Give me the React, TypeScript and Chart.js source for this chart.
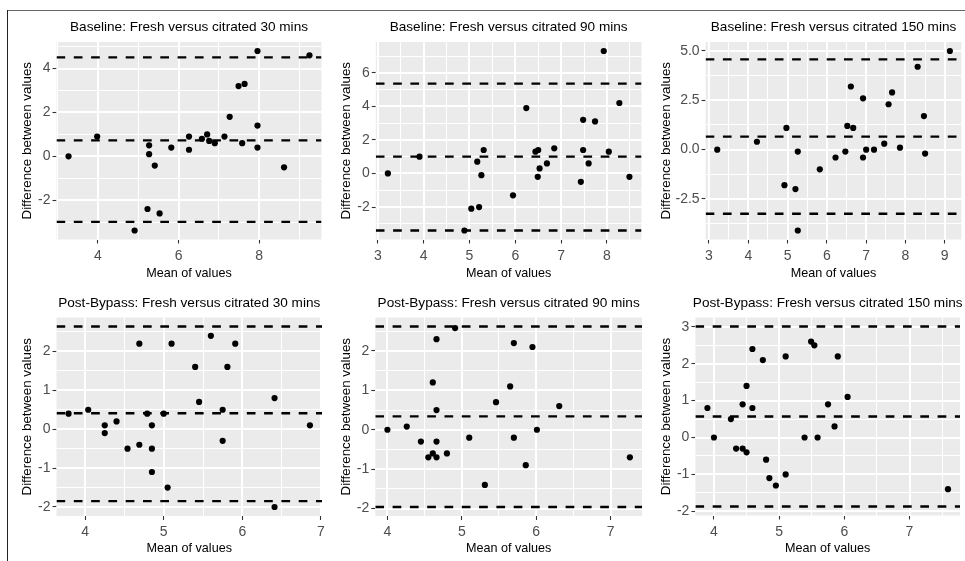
import React, { useEffect, useRef } from "react";
import { Chart, registerables } from "chart.js";

Chart.register(...registerables);

const FONT = '"Liberation Sans", Arial, Helvetica, sans-serif';
const W = 965;
const H = 561;

// ---------- titles ----------
const panelTitles = [
  "Baseline: Fresh versus citrated 30 mins",
  "Baseline: Fresh versus citrated 90 mins",
  "Baseline: Fresh versus citrated 150 mins",
  "Post-Bypass: Fresh versus citrated 30 mins",
  "Post-Bypass: Fresh versus citrated 90 mins",
  "Post-Bypass: Fresh versus citrated 150 mins",
];
const xAxisTitle = "Mean of values";
const yAxisTitle = "Difference between values";

// ---------- data: mean (x) and difference (y) ----------
const base30X = [3.27, 3.98, 4.91, 5.23, 5.27, 5.27, 5.41, 5.53, 5.82, 6.26, 6.26, 6.58, 6.71, 6.76, 6.9, 7.14, 7.27, 7.49, 7.64, 7.58, 7.96, 7.96, 7.96, 8.62, 9.25];
const base30Y = [0, 0.9, -3.38, -2.4, 0.5, 0.1, -0.42, -2.6, 0.4, 0.9, 0.3, 0.8, 1.0, 0.7, 0.6, 0.9, 1.8, 3.2, 3.3, 0.6, 4.8, 1.4, 0.4, -0.5, 4.6];

const base90X = [3.22, 3.91, 4.89, 5.04, 5.17, 5.21, 5.26, 5.31, 5.95, 6.24, 6.44, 6.5, 6.49, 6.53, 6.69, 6.85, 7.43, 7.48, 7.48, 7.6, 7.74, 7.93, 8.04, 8.27, 8.49];
const base90Y = [0, 1.0, -3.4, -2.1, 0.7, -2.0, -0.1, 1.4, -1.3, 3.9, 1.3, 1.4, -0.2, 0.3, 0.6, 1.5, -0.5, 3.2, 1.4, 0.6, 3.1, 7.3, 1.3, 4.2, -0.2];

const base150X = [3.21, 4.22, 4.92, 4.97, 5.2, 5.26, 5.26, 5.82, 6.22, 6.47, 6.52, 6.61, 6.67, 6.92, 6.92, 7.0, 7.2, 7.46, 7.57, 7.66, 7.86, 8.31, 8.47, 8.5, 9.13];
const base150Y = [0, 0.4, -1.8, 1.1, -2.0, -0.1, -4.1, -1.0, -0.4, -0.1, 1.2, 3.2, 1.1, 2.6, -0.4, 0, 0, 0.3, 2.3, 2.9, 0.1, 4.2, 1.7, -0.2, 5.0];

const post30X = [3.79, 4.04, 4.25, 4.25, 4.4, 4.54, 4.69, 4.69, 4.79, 4.85, 4.85, 4.85, 5.0, 5.05, 5.1, 5.4, 5.45, 5.6, 5.75, 5.75, 5.81, 5.91, 6.41, 6.41, 6.86];
const post30Y = [0.4, 0.5, 0.1, -0.1, 0.2, -0.5, 2.2, -0.4, 0.4, 0.1, -0.5, -1.1, 0.4, -1.5, 2.2, 1.6, 0.7, 2.4, 0.5, -0.3, 1.6, 2.2, 0.8, -2.0, 0.1];

const post90X = [4.0, 4.26, 4.45, 4.55, 4.61, 4.61, 4.66, 4.66, 4.66, 4.66, 4.8, 4.91, 5.1, 5.31, 5.46, 5.65, 5.7, 5.7, 5.86, 5.95, 6.01, 6.31, 7.26];
const post90Y = [0, 0.08, -0.3, -0.7, -0.6, 1.2, 2.3, 0.5, -0.3, -0.7, -0.6, 2.58, -0.2, -1.4, 0.7, 1.1, 2.2, -0.2, -0.9, 2.1, 0, 0.6, -0.7];

const post150X = [3.9, 4.0, 4.26, 4.34, 4.44, 4.44, 4.5, 4.5, 4.59, 4.59, 4.75, 4.8, 4.85, 4.95, 5.1, 5.1, 5.39, 5.49, 5.54, 5.59, 5.75, 5.85, 5.9, 6.05, 7.59];
const post150Y = [0.8, 0, 0.5, -0.3, 0.9, -0.3, 1.4, -0.4, 2.4, 0.8, 2.1, -0.6, -1.1, -1.3, 2.2, -1.0, 0, 2.6, 2.5, 0, 0.9, 0.3, 2.2, 1.1, -1.4];

// ---------- limits of agreement (upper, mean, lower) ----------
const base30Limits = [4.51, 0.73, -2.99];
const base90Limits = [5.36, 1.0, -3.4];
const base150Limits = [4.57, 0.66, -3.25];
const post30Limits = [2.64, 0.41, -1.85];
const post90Limits = [2.62, 0.34, -1.96];
const post150Limits = [3.01, 0.57, -1.87];

// ---------- tick values and labels ----------
const base30XTicks = [4, 6, 8];
const base30YTicks = [-2, 0, 2, 4];
const base90XTicks = [3, 4, 5, 6, 7, 8];
const base90YTicks = [-2, 0, 2, 4, 6];
const base150XTicks = [3, 4, 5, 6, 7, 8, 9];
const base150YTicks = [-2.5, 0, 2.5, 5];
const base150YLabels = ["-2.5", "0.0", "2.5", "5.0"];
const post30XTicks = [4, 5, 6, 7];
const post30YTicks = [-2, -1, 0, 1, 2];
const post90XTicks = [4, 5, 6, 7];
const post90YTicks = [-2, -1, 0, 1, 2];
const post150XTicks = [4, 5, 6, 7];
const post150YTicks = [-2, -1, 0, 1, 2, 3];

type PanelData = {
  title: string;
  xs: number[];
  ys: number[];
  limits: number[];
  xTicks: number[];
  yTicks: number[];
  xLabels: string[];
  yLabels: string[];
};

const str = (a: number[]) => a.map((v) => String(v));

const panels: PanelData[] = [
  { title: panelTitles[0], xs: base30X, ys: base30Y, limits: base30Limits, xTicks: base30XTicks, yTicks: base30YTicks, xLabels: str(base30XTicks), yLabels: str(base30YTicks) },
  { title: panelTitles[1], xs: base90X, ys: base90Y, limits: base90Limits, xTicks: base90XTicks, yTicks: base90YTicks, xLabels: str(base90XTicks), yLabels: str(base90YTicks) },
  { title: panelTitles[2], xs: base150X, ys: base150Y, limits: base150Limits, xTicks: base150XTicks, yTicks: base150YTicks, xLabels: str(base150XTicks), yLabels: base150YLabels },
  { title: panelTitles[3], xs: post30X, ys: post30Y, limits: post30Limits, xTicks: post30XTicks, yTicks: post30YTicks, xLabels: str(post30XTicks), yLabels: str(post30YTicks) },
  { title: panelTitles[4], xs: post90X, ys: post90Y, limits: post90Limits, xTicks: post90XTicks, yTicks: post90YTicks, xLabels: str(post90XTicks), yLabels: str(post90YTicks) },
  { title: panelTitles[5], xs: post150X, ys: post150Y, limits: post150Limits, xTicks: post150XTicks, yTicks: post150YTicks, xLabels: str(post150XTicks), yLabels: str(post150YTicks) },
];

// ---------- layout (page pixel boxes of each plotting panel) ----------
const boxes = [
  { L: 56.5, R: 321.5, T: 42, B: 239.5, yt: 27, tt: 27.5, xt: 273.5 },
  { L: 375.8, R: 641.5, T: 42, B: 239.5, yt: 346.5, tt: 27.5, xt: 273.5 },
  { L: 705.6, R: 961.5, T: 42, B: 239.5, yt: 666.5, tt: 27.5, xt: 273.5 },
  { L: 56.5, R: 322, T: 317.5, B: 516, yt: 27, tt: 303, xt: 549 },
  { L: 375.3, R: 642, T: 317.5, B: 516, yt: 346.5, tt: 303, xt: 549 },
  { L: 695.4, R: 960, T: 317.5, B: 515.5, yt: 666.5, tt: 303, xt: 549 },
];
const Y_AXIS_W = 42;
const X_AXIS_H = 26;

function expandRange(vals: number[]): [number, number] {
  const mn = Math.min(...vals);
  const mx = Math.max(...vals);
  const d = (mx - mn) * 0.05;
  return [mn - d, mx + d];
}

function allTicks(majors: number[], min: number, max: number) {
  const step = majors[1] - majors[0];
  const ext = [majors[0] - step, ...majors, majors[majors.length - 1] + step];
  const minors: number[] = [];
  for (let i = 0; i < ext.length - 1; i++) minors.push((ext[i] + ext[i + 1]) / 2);
  const all = [...majors, ...minors].filter((v) => v >= min - 1e-9 && v <= max + 1e-9);
  all.sort((a, b) => a - b);
  return all;
}

const near = (a: number, b: number) => Math.abs(a - b) < 1e-6;

// snap a line centre so that a line of the given width covers whole pixels
const snap = (v: number, w: number) => (w % 2 === 1 ? Math.floor(v) + 0.5 : Math.round(v));

function makeConfig(p: PanelData, b: (typeof boxes)[number]): any {
  const [xmin, xmax] = expandRange(p.xs);
  const [ymin, ymax] = expandRange([...p.ys, ...p.limits]);
  const xAll = allTicks(p.xTicks, xmin, xmax);
  const yAll = allTicks(p.yTicks, ymin, ymax);
  const xMajor = (v: number) => p.xTicks.some((m) => near(m, v));
  const yMajor = (v: number) => p.yTicks.some((m) => near(m, v));
  const xLabel = (v: number) => {
    const i = p.xTicks.findIndex((m) => near(m, v));
    return i >= 0 ? p.xLabels[i] : "";
  };
  const yLabel = (v: number) => {
    const i = p.yTicks.findIndex((m) => near(m, v));
    return i >= 0 ? p.yLabels[i] : "";
  };

  const points = p.xs.map((x, i) => ({ x, y: p.ys[i] }));
  const lineSets = p.limits.map((v) => ({
    type: "line",
    data: [
      { x: xmin, y: v },
      { x: xmax, y: v },
    ],
    borderColor: "#000000",
    borderWidth: 2.3,
    borderDash: [8.7, 8.6],
    pointRadius: 0,
    fill: false,
    tension: 0,
  }));

  const deco = {
    id: "deco",
    beforeDatasetsDraw(chart: any) {
      const a = chart.chartArea;
      const ctx = chart.ctx;
      const xs = chart.scales.x;
      const ys = chart.scales.y;
      ctx.save();
      ctx.fillStyle = "#EBEBEB";
      ctx.fillRect(a.left, a.top, a.right - a.left, a.bottom - a.top);
      ctx.strokeStyle = "#FFFFFF";
      ctx.setLineDash([]);
      for (const pass of [false, true]) {
        const w = pass ? 2 : 1;
        ctx.lineWidth = w;
        for (const t of xs.ticks) {
          if (xMajor(t.value) !== pass) continue;
          const px = snap(xs.getPixelForValue(t.value), w);
          ctx.beginPath();
          ctx.moveTo(px, a.top);
          ctx.lineTo(px, a.bottom);
          ctx.stroke();
        }
        for (const t of ys.ticks) {
          if (yMajor(t.value) !== pass) continue;
          const py = snap(ys.getPixelForValue(t.value), w);
          ctx.beginPath();
          ctx.moveTo(a.left, py);
          ctx.lineTo(a.right, py);
          ctx.stroke();
        }
      }
      ctx.restore();
    },
    afterDraw(chart: any) {
      const a = chart.chartArea;
      const ctx = chart.ctx;
      const cx = (a.left + a.right) / 2;
      ctx.save();
      ctx.fillStyle = "#000000";
      ctx.textAlign = "center";
      ctx.textBaseline = "middle";
      ctx.font = `13.6px ${FONT}`;
      ctx.fillText(p.title, cx, b.tt);
      ctx.font = `12.6px ${FONT}`;
      ctx.fillText(xAxisTitle, cx, b.xt);
      ctx.translate(b.yt, (a.top + a.bottom) / 2);
      ctx.rotate(-Math.PI / 2);
      ctx.font = `13.4px ${FONT}`;
      ctx.fillText(yAxisTitle, 0, 0);
      ctx.restore();
    },
  };

  const gridOpts = (isMajor: (v: number) => boolean) => ({
    display: true,
    drawOnChartArea: false,
    color: "#FFFFFF",
    lineWidth: 1,
    drawTicks: true,
    tickLength: 4,
    tickWidth: 1.1,
    tickColor: (c: any) => (c.tick && isMajor(c.tick.value) ? "#333333" : "rgba(0,0,0,0)"),
  });

  return {
    type: "scatter",
    data: {
      datasets: [
        {
          type: "scatter",
          data: points,
          pointRadius: 3.1,
          pointBackgroundColor: "#000000",
          pointBorderWidth: 0,
          pointHoverRadius: 3.1,
        },
        ...lineSets,
      ],
    },
    options: {
      animation: false,
      responsive: false,
      events: [],
      layout: {
        padding: { left: b.L - Y_AXIS_W, right: W - b.R, top: b.T, bottom: H - b.B - X_AXIS_H },
      },
      plugins: {
        legend: { display: false },
        tooltip: { enabled: false },
        title: { display: false },
      },
      scales: {
        x: {
          type: "linear",
          min: xmin,
          max: xmax,
          afterFit: (axis: any) => {
            axis.height = X_AXIS_H;
          },
          afterBuildTicks: (axis: any) => {
            axis.ticks = xAll.map((v) => ({ value: v }));
          },
          border: { display: false },
          grid: gridOpts(xMajor),
          ticks: {
            autoSkip: false,
            minRotation: 0,
            maxRotation: 0,
            padding: 4,
            color: "#4D4D4D",
            font: { family: FONT, size: 14 },
            callback: (v: number) => xLabel(v),
          },
        },
        y: {
          type: "linear",
          min: ymin,
          max: ymax,
          afterFit: (axis: any) => {
            axis.width = Y_AXIS_W;
          },
          afterBuildTicks: (axis: any) => {
            axis.ticks = yAll.map((v) => ({ value: v }));
          },
          border: { display: false },
          grid: gridOpts(yMajor),
          ticks: {
            autoSkip: false,
            padding: 2,
            color: "#4D4D4D",
            font: { family: FONT, size: 14 },
            callback: (v: number) => yLabel(v),
          },
        },
      },
    },
    plugins: [deco],
  };
}

export default function App() {
  const refs = useRef<(HTMLCanvasElement | null)[]>([]);

  useEffect(() => {
    const charts: Chart[] = [];
    panels.forEach((p, i) => {
      const cv = refs.current[i];
      if (!cv) return;
      charts.push(new Chart(cv, makeConfig(p, boxes[i])));
    });
    return () => {
      charts.forEach((c) => c.destroy());
    };
  }, []);

  return (
    <div
      style={{
        position: "absolute",
        left: 0,
        top: 0,
        width: W,
        height: H,
        background: "#FFFFFF",
        overflow: "hidden",
      }}
    >
      {panels.map((_, i) => (
        <canvas
          key={i}
          ref={(el) => {
            refs.current[i] = el;
          }}
          width={W}
          height={H}
          style={{ position: "absolute", left: 0, top: 0, width: W, height: H }}
        />
      ))}
      <div style={{ position: "absolute", left: 7, top: 9.5, width: W - 7, height: 1, background: "#666666" }} />
      <div style={{ position: "absolute", left: 6.5, top: 10, width: 1.5, height: H - 10, background: "#222222" }} />
    </div>
  );
}
